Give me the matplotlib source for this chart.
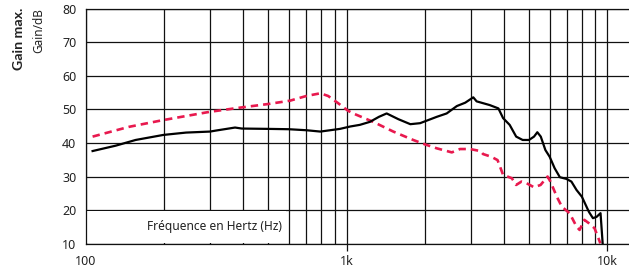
import matplotlib
matplotlib.use('Agg')
import matplotlib.pyplot as plt
import matplotlib.patches as patches
from matplotlib.ticker import FixedLocator, NullFormatter

plt.rcParams['font.family'] = ['Noto Sans', 'DejaVu Sans']

# courbe noire (gain max.)
black_f = [106, 130, 155, 198, 242, 299, 315, 373, 396, 500, 600, 700, 792, 942, 1030,
           1123, 1228, 1330, 1423, 1577, 1754, 1912, 2217, 2418, 2645, 2848, 3058, 3150,
           3534, 3818, 3980, 4217, 4467, 4730, 5005, 5230, 5384, 5551, 5782, 6004, 6273,
           6571, 6963, 7276, 7613, 7980, 8490, 8800, 9090, 9410, 9600]
black_db = [37.6, 39.2, 40.9, 42.4, 43.1, 43.4, 43.7, 44.6, 44.3, 44.2, 44.1, 43.8, 43.4,
            44.2, 44.9, 45.4, 46.3, 47.8, 48.8, 47.1, 45.6, 45.9, 47.8, 48.8, 51.0, 52.0,
            53.6, 52.4, 51.3, 50.3, 47.4, 45.4, 41.9, 40.9, 40.9, 41.9, 43.2, 41.9, 37.9,
            35.9, 32.5, 29.8, 29.3, 28.5, 26.0, 24.0, 19.5, 17.6, 18.0, 19.1, 9.5]

# courbe rouge pointillée
red_f = [106, 146, 197, 299, 396, 499, 606, 700, 792, 849, 929, 1012, 1059, 1263, 1509,
         1799, 1994, 2217, 2530, 2720, 2967, 3256, 3335, 3585, 3790, 3980, 4299, 4467,
         4680, 4902, 5230, 5541, 5895, 6046, 6395, 6690, 7158, 7613, 7820, 8160, 8490,
         8925, 9400]
red_db = [41.9, 44.8, 46.8, 49.3, 50.6, 51.6, 52.6, 54.0, 54.8, 54.0, 51.8, 49.6, 48.8,
          46.3, 43.4, 40.9, 39.6, 38.4, 37.2, 38.2, 38.2, 37.6, 36.7, 35.9, 34.9, 30.5,
          29.5, 27.5, 28.5, 28.0, 26.8, 27.5, 30.0, 28.5, 24.0, 21.0, 19.1, 15.1, 14.1,
          17.1, 16.1, 14.6, 10.1]

yticks = [10, 20, 30, 40, 50, 60, 70, 80]
xticks = [100, 1000, 10000]
xtick_labels = ['100', '1k', '10k']
minor_f = [200, 300, 400, 500, 600, 700, 800, 900,
           2000, 3000, 4000, 5000, 6000, 7000, 8000, 9000]

fig = plt.figure(figsize=(6.29, 2.68), dpi=100)
ax = fig.add_axes([86 / 629, 24.3 / 268, 543 / 629, 235 / 268])

ax.set_xscale('log')
ax.set_xlim(100, 12100)
ax.set_ylim(10, 80)

ax.xaxis.set_major_locator(FixedLocator(xticks))
ax.set_xticklabels(xtick_labels)
ax.xaxis.set_minor_locator(FixedLocator(minor_f))
ax.xaxis.set_minor_formatter(NullFormatter())
ax.set_yticks(yticks)

ax.grid(True, which='both', axis='x', color='#111111', lw=0.9)
ax.grid(True, which='major', axis='y', color='#111111', lw=0.9)
ax.set_axisbelow(True)

ax.spines['right'].set_visible(False)
for s in ['left', 'top', 'bottom']:
    ax.spines[s].set_linewidth(0.9)
    ax.spines[s].set_color('#111111')

ax.tick_params(axis='y', length=0, pad=7, labelsize=9, labelcolor='#222222')
ax.tick_params(axis='x', which='major', length=5, width=0.9, color='#111111',
               pad=3, labelsize=9, labelcolor='#222222')
ax.tick_params(axis='x', which='minor', length=0)
ax.xaxis.get_major_ticks()[0].tick1line.set_visible(False)

# bandeau blanc derrière le titre de l'axe x
ax.add_patch(patches.Rectangle((101, 10.35), 585 - 101, 9.3, facecolor='white',
                               edgecolor='none', zorder=1.5))
ax.text(566, 15, 'Fréquence en Hertz (Hz)', ha='right', va='center',
        fontsize=8.6, color='#222222', zorder=2)

ax.plot(red_f, red_db, color='#e8194e', lw=1.9, ls=(0, (2.8, 1.9)), zorder=3)
ax.plot(black_f, black_db, color='black', lw=1.6, zorder=4)

fig.text(19 / 629, 1 - 8 / 268, 'Gain max.', rotation=90, ha='center', va='top',
         fontsize=10.2, fontweight='bold', color='#222222',
         family=['Lato', 'DejaVu Sans'])
fig.text(39 / 629, 1 - 8 / 268, 'Gain/dB', rotation=90, ha='center', va='top',
         fontsize=8.5, color='#222222')

fig.savefig('out.png', dpi=100)
